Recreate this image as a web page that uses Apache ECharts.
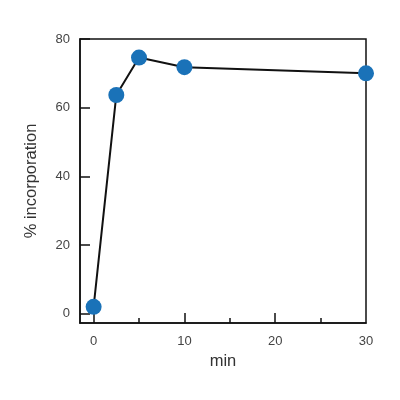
<!DOCTYPE html>
<html>
<head>
<meta charset="utf-8">
<script src="https://cdn.jsdelivr.net/npm/echarts@6/dist/echarts.min.js"></script>
<style>html,body{margin:0;padding:0;background:#fff;}#c{width:400px;height:400px;}</style>
</head>
<body>
<div id="c"></div>
<script>
var timeMin = [0, 2.5, 5, 10, 30];
var incorporation = [2, 63.7, 74.6, 71.8, 70];
var xLabels = [0, 10, 20, 30];
var xMajorTicks = [0, 10, 20];
var xMinorTicks = [5, 15, 25];
var yLabels = [0, 20, 40, 60, 80];

var chart = echarts.init(document.getElementById('c'), null, {renderer: 'canvas'});
var textStyle = {color: '#444', fontFamily: 'Liberation Sans, Arial, sans-serif', fontSize: 13};
var nameStyle = {color: '#333', fontSize: 16.5, fontFamily: 'Liberation Sans, Arial, sans-serif'};
chart.setOption({
  animation: false,
  backgroundColor: '#fff',
  grid: {left: 80, right: 34, top: 39, bottom: 77, show: true, borderColor: '#111', borderWidth: 1.5},
  xAxis: [{
    type: 'value', min: -1.5, max: 30,
    name: 'min', nameLocation: 'middle', nameGap: 22,
    nameTextStyle: nameStyle,
    axisLine: {show: true, onZero: false, lineStyle: {color: '#111', width: 1.5}},
    axisTick: {show: true, inside: true, length: 10, customValues: xMajorTicks, lineStyle: {color: '#111', width: 1.5}},
    axisLabel: Object.assign({customValues: xLabels, margin: 12}, textStyle),
    splitLine: {show: false}
  }, {
    type: 'value', min: -1.5, max: 30, position: 'bottom',
    axisLine: {show: false, onZero: false},
    axisTick: {show: true, inside: true, length: 5, customValues: xMinorTicks, lineStyle: {color: '#111', width: 1.5}},
    axisLabel: {show: false},
    splitLine: {show: false}
  }],
  yAxis: {
    type: 'value', min: -2.7, max: 80,
    name: '% incorporation', nameLocation: 'middle', nameGap: 40,
    nameTextStyle: nameStyle,
    axisLine: {show: true, onZero: false, lineStyle: {color: '#111', width: 1.5}},
    axisTick: {show: true, inside: true, length: 10, customValues: yLabels, lineStyle: {color: '#111', width: 1.5}},
    axisLabel: Object.assign({customValues: yLabels, margin: 10}, textStyle),
    splitLine: {show: false}
  },
  series: [{
    type: 'line',
    data: timeMin.map(function (t, i) { return [t, incorporation[i]]; }),
    symbol: 'circle', symbolSize: 16,
    lineStyle: {color: '#111', width: 2},
    itemStyle: {color: '#1a72b8', borderWidth: 0},
    z: 5
  }]
});
</script>
</body>
</html>
